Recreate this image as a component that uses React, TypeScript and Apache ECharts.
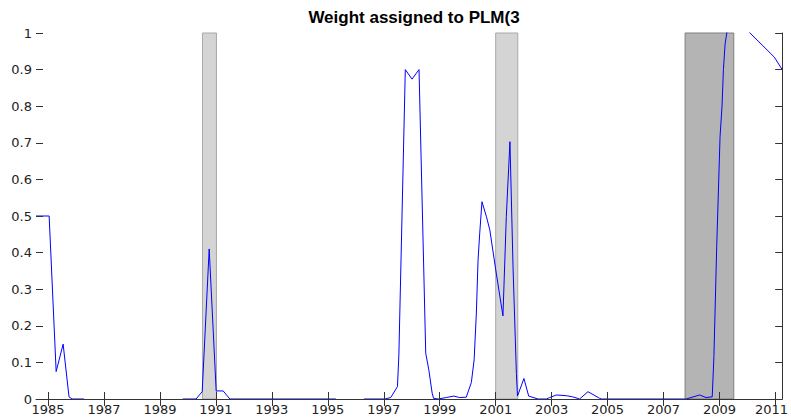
import React, { useEffect, useRef } from "react";
import * as echarts from "echarts";

// [year, weight] – three observed segments of the weight series
const seg1: [number, number][] = [
  [1984.57, 0.5], [1985.04, 0.5], [1985.29, 0.075], [1985.54, 0.15],
  [1985.75, 0.006], [1985.86, 0], [1986.29, 0],
];
const seg2: [number, number][] = [
  [1989.81, 0], [1990.29, 0], [1990.51, 0.02], [1990.76, 0.41],
  [1991.01, 0.022], [1991.26, 0.022], [1991.5, 0], [1995.29, 0],
];
const seg3: [number, number][] = [
  [1996.29, 0], [1997.04, 0], [1997.25, 0.004], [1997.49, 0.034], [1997.54, 0.12],
  [1997.77, 0.9], [1998.01, 0.874], [1998.26, 0.9], [1998.5, 0.125], [1998.61, 0.08],
  [1998.73, 0.016], [1998.78, 0.002], [1998.94, 0], [1999.24, 0.004], [1999.5, 0.008],
  [1999.71, 0.004], [1999.95, 0.005], [2000.13, 0.045], [2000.23, 0.107], [2000.31, 0.235],
  [2000.37, 0.38], [2000.43, 0.453], [2000.51, 0.539], [2000.67, 0.498], [2000.79, 0.462],
  [2001.02, 0.344], [2001.26, 0.227], [2001.38, 0.498], [2001.51, 0.703], [2001.62, 0.361],
  [2001.74, 0.07], [2001.78, 0.008], [2002.01, 0.056], [2002.18, 0.008], [2002.51, 0],
  [2002.81, 0], [2002.93, 0.004], [2003.17, 0.011], [2003.53, 0.009], [2003.75, 0.006],
  [2004.0, 0], [2004.3, 0.02], [2004.71, 0.002], [2004.78, 0], [2007.81, 0],
  [2008.29, 0.011], [2008.52, 0.004], [2008.74, 0.006], [2008.8, 0.116], [2008.9, 0.416],
  [2009.02, 0.717], [2009.09, 0.8], [2009.14, 0.9], [2009.2, 0.97], [2009.28, 1.01],
  [2009.96, 1.01], [2010.96, 0.934], [2011.24, 0.9],
];

// shaded periods [start, end]
const lightBands: [number, number][] = [
  [1990.52, 1991.02],
  [2001.0, 2001.79],
];
const darkBands: [number, number][] = [[2007.77, 2009.51]];

const yearTicks: number[] = [1985, 1987, 1989, 1991, 1993, 1995, 1997, 1999, 2001, 2003, 2005, 2007, 2009, 2011];

const X_MIN = 1984.57;
const X_MAX = 2011.24;
const TITLE = "Weight assigned to PLM(3";

export default function App() {
  const ref = useRef<HTMLDivElement>(null);
  useEffect(() => {
    if (!ref.current) return;
    const chart = echarts.init(ref.current, undefined, { renderer: "svg" });
    const labelFont = { fontFamily: "DejaVu Sans", fontSize: 13, color: "#222" };
    const bandData: any[] = [
      ...lightBands.map(([a, b]) => [
        { xAxis: a, itemStyle: { color: "#d4d4d4", borderColor: "#a8a8a8", borderWidth: 1 } },
        { xAxis: b },
      ]),
      ...darkBands.map(([a, b]) => [
        { xAxis: a, itemStyle: { color: "#b4b4b4", borderColor: "#7f7f7f", borderWidth: 1 } },
        { xAxis: b },
      ]),
    ];
    const lineCommon = {
      type: "line",
      showSymbol: false,
      symbol: "none",
      lineStyle: { color: "#0000ff", width: 1 },
      itemStyle: { color: "#0000ff" },
      xAxisIndex: 0,
      yAxisIndex: 0,
      silent: true,
      clip: true,
      z: 3,
    };
    chart.setOption({
      animation: false,
      title: {
        text: TITLE,
        left: 409,
        textAlign: "center",
        top: 4,
        textStyle: { fontFamily: "Liberation Sans", fontWeight: "bold", fontSize: 17, color: "#000" },
      },
      grid: { left: 36, right: 8, top: 33, bottom: 19 },
      xAxis: [
        {
          type: "value",
          position: "bottom",
          min: X_MIN,
          max: X_MAX,
          z: 10,
          axisLine: { show: false },
          splitLine: { show: false },
          axisTick: { show: true, inside: true, length: 7, customValues: yearTicks, lineStyle: { color: "#333" } },
          axisLabel: {
            ...labelFont,
            margin: 4,
            customValues: yearTicks,
            formatter: (v: number) => (v === 2011 ? "{r|2011}" : String(v)),
            rich: { r: { ...labelFont, padding: [0, 8, 0, 0] } },
          },
        },
        {
          type: "value",
          position: "top",
          min: X_MIN,
          max: X_MAX,
          z: 10,
          axisLine: { show: true, lineStyle: { color: "#333", width: 1 } },
          splitLine: { show: false },
          axisTick: { show: true, inside: true, length: 7, customValues: yearTicks, lineStyle: { color: "#333" } },
          axisLabel: { show: false },
        },
      ],
      yAxis: [
        {
          type: "value",
          position: "left",
          min: 0,
          max: 1,
          interval: 0.1,
          z: 10,
          axisLine: { show: false },
          splitLine: { show: false },
          axisTick: { show: true, inside: true, length: 7, lineStyle: { color: "#333" } },
          axisLabel: {
            ...labelFont,
            margin: 4,
            formatter: (v: number) => String(Math.round(v * 10) / 10),
          },
        },
        {
          type: "value",
          position: "right",
          min: 0,
          max: 1,
          interval: 0.1,
          z: 10,
          axisLine: { show: true, lineStyle: { color: "#333", width: 1 } },
          splitLine: { show: false },
          axisTick: { show: true, inside: true, length: 7, lineStyle: { color: "#333" } },
          axisLabel: { show: false },
        },
      ],
      series: [
        {
          ...lineCommon,
          data: seg1,
          markArea: { silent: true, data: bandData },
        },
        { ...lineCommon, data: seg2 },
        { ...lineCommon, data: seg3 },
      ],
    });
    return () => chart.dispose();
  }, []);
  return (
    <div
      ref={ref}
      style={{ position: "absolute", left: 0, top: 0, width: 791, height: 418, background: "#fff" }}
    />
  );
}
